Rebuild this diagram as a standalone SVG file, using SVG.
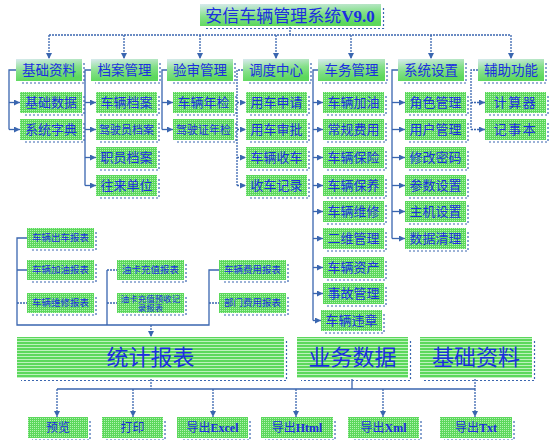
<svg xmlns="http://www.w3.org/2000/svg" width="553" height="440" viewBox="0 0 553 440">
<defs>
<pattern id="dots" width="2" height="2" patternUnits="userSpaceOnUse"><rect width="2" height="2" fill="#5cd85c"/><rect width="1" height="1" fill="#b2f2b2"/></pattern>
<pattern id="stripes" width="3" height="3" patternUnits="userSpaceOnUse"><rect width="3" height="3" fill="#5cd85c"/><rect y="2" width="3" height="1" fill="#bcf2bc"/></pattern>
<linearGradient id="hdr" x1="0" y1="0" x2="0.25" y2="1"><stop offset="0" stop-color="#d8eaee"/><stop offset="0.55" stop-color="#84e088"/><stop offset="1" stop-color="#5cd85c"/></linearGradient>
<marker id="ar" markerWidth="7" markerHeight="7" refX="6" refY="3" orient="auto" markerUnits="userSpaceOnUse"><path d="M0,0 L6,3 L0,6 z" fill="#3a66b0"/></marker>
</defs>
<style>
.box{fill:url(#dots)}
.hd{fill:url(#hdr)}
.big{fill:url(#stripes)}
.sh{fill:none;stroke:#3a66b0;stroke-width:1.2;stroke-dasharray:2 2}
.ln{fill:none;stroke:#3a66b0;stroke-width:1.3}
.dl{fill:none;stroke:#3a66b0;stroke-width:1.3;stroke-dasharray:2 1}
.ar{marker-end:url(#ar)}
text{font-family:"Liberation Serif","Noto Sans CJK SC",serif;fill:#1c2ee0;text-anchor:middle;dominant-baseline:central}
.t13{font-size:13px}
.t14{font-size:13.5px}
.t11{font-size:11px}
.t9{font-size:9.5px}
.t8{font-size:8.5px}
.t12{font-size:12px}
.t22{font-size:22px}
.b{font-weight:bold}
</style>

<g id="connectors">
<path class="dl" d="M290,27 V35 M49,35 H511"/>
<path class="dl ar" d="M49,35 V59"/><path class="dl ar" d="M124,35 V59"/><path class="dl ar" d="M200,35 V59"/><path class="dl ar" d="M276,35 V59"/><path class="dl ar" d="M351,35 V59"/><path class="dl ar" d="M431,35 V59"/><path class="dl ar" d="M511,35 V59"/>
<path class="ln" d="M16,70 H9 V129.5"/>
<path class="ln ar" d="M9,102.5 H20"/><path class="ln ar" d="M9,129.5 H20"/>
<path class="ln" d="M91,70 H85 V185.5"/>
<path class="ln ar" d="M85,102.5 H96"/><path class="ln ar" d="M85,129.5 H96"/><path class="ln ar" d="M85,157.5 H96"/><path class="ln ar" d="M85,185.5 H96"/>
<path class="ln" d="M167,70 H162 V129.5"/>
<path class="ln ar" d="M162,102.5 H173"/><path class="ln ar" d="M162,129.5 H173"/>
<path class="dl" d="M243,70 H237 V185.5"/>
<path class="dl ar" d="M237,102.5 H246"/><path class="dl ar" d="M237,129.5 H246"/><path class="dl ar" d="M237,157.5 H246"/><path class="dl ar" d="M237,185.5 H246"/>
<path class="ln" d="M318,70 H313 V320.5"/>
<path class="ln ar" d="M313,102.5 H323"/><path class="ln ar" d="M313,129.5 H323"/><path class="ln ar" d="M313,157.5 H323"/><path class="ln ar" d="M313,185.5 H323"/><path class="ln ar" d="M313,211.5 H323"/><path class="ln ar" d="M313,238.5 H323"/><path class="ln ar" d="M313,267.5 H323"/><path class="ln ar" d="M313,293.5 H323"/><path class="ln ar" d="M313,320.5 H321"/>
<path class="ln" d="M398,70 H392 V238.5"/>
<path class="ln ar" d="M392,102.5 H405"/><path class="ln ar" d="M392,129.5 H405"/><path class="ln ar" d="M392,157.5 H405"/><path class="ln ar" d="M392,185.5 H405"/><path class="ln ar" d="M392,211.5 H405"/><path class="ln ar" d="M392,238.5 H405"/>
<path class="dl" d="M478,70 H471 V129.5"/>
<path class="dl ar" d="M471,102.5 H485"/><path class="dl ar" d="M471,129.5 H485"/>
<path class="ln" d="M27,238 H17 V325 H209 V270 H219"/>
<path class="ln" d="M17,270 H27 M107,325 V270"/>
<path class="dl" d="M17,303 H27 M107,270 H117 M107,303 H117 M209,303 H219"/>
<path class="dl ar" d="M151,325 V337"/>
<path class="dl" d="M151,379 V389 M475,379 V389"/>
<path class="ln" d="M57,389 H475 M352,379 V389"/>
<path class="dl ar" d="M57,389 V417"/><path class="dl ar" d="M133,389 V417"/><path class="dl ar" d="M213,389 V417"/><path class="dl ar" d="M296,389 V417"/><path class="dl ar" d="M383,389 V417"/><path class="dl ar" d="M475,389 V417"/>
</g>

<g id="title"><rect class="hd" x="200" y="4" width="181" height="22"/><path class="sh" d="M383.5,8 V28.5 H204"/><text x="290" y="15.5" style="font-size:17px"><tspan>安信车辆管理系统</tspan><tspan class="b">V9.0</tspan></text></g>

<g id="h1"><rect class="hd" x="16" y="59" width="66" height="22"/><path class="sh" d="M84,63 V83 H20"/><text class="t14" x="49" y="70">基础资料</text></g>
<g id="h2"><rect class="hd" x="91" y="59" width="67" height="22"/><path class="sh" d="M160,63 V83 H95"/><text class="t14" x="124.5" y="70">档案管理</text></g>
<g id="h3"><rect class="hd" x="167" y="59" width="66" height="22"/><path class="sh" d="M235,63 V83 H171"/><text class="t14" x="200" y="70">验审管理</text></g>
<g id="h4"><rect class="hd" x="243" y="59" width="66" height="22"/><path class="sh" d="M311,63 V83 H247"/><text class="t14" x="276" y="70">调度中心</text></g>
<g id="h5"><rect class="hd" x="318" y="59" width="67" height="22"/><path class="sh" d="M387,63 V83 H322"/><text class="t14" x="351.5" y="70">车务管理</text></g>
<g id="h6"><rect class="hd" x="398" y="59" width="66" height="22"/><path class="sh" d="M466,63 V83 H402"/><text class="t14" x="431" y="70">系统设置</text></g>
<g id="h7"><rect class="hd" x="478" y="59" width="66" height="22"/><path class="sh" d="M546,63 V83 H482"/><text class="t14" x="511" y="70">辅助功能</text></g>

<g id="n1a"><rect class="box" x="20" y="92" width="62" height="21"/><path class="sh" d="M84,96 V115 H24"/><text class="t13" x="51" y="102.5">基础数据</text></g>
<g id="n1b"><rect class="box" x="20" y="119" width="62" height="21"/><path class="sh" d="M84,123 V142 H24"/><text class="t13" x="51" y="129.5">系统字典</text></g>

<g id="n2a"><rect class="box" x="96" y="92" width="61" height="21"/><path class="sh" d="M159,96 V115 H100"/><text class="t13" x="126.5" y="102.5">车辆档案</text></g>
<g id="n2b"><rect class="box" x="96" y="119" width="61" height="21"/><path class="sh" d="M159,123 V142 H100"/><text class="t11" x="126.5" y="129.5">驾驶员档案</text></g>
<g id="n2c"><rect class="box" x="96" y="147" width="61" height="21"/><path class="sh" d="M159,151 V170 H100"/><text class="t13" x="126.5" y="157.5">职员档案</text></g>
<g id="n2d"><rect class="box" x="96" y="175" width="61" height="21"/><path class="sh" d="M159,179 V198 H100"/><text class="t13" x="126.5" y="185.5">往来单位</text></g>

<g id="n3a"><rect class="box" x="173" y="92" width="61" height="21"/><path class="sh" d="M236,96 V115 H177"/><text class="t13" x="203.5" y="102.5">车辆年检</text></g>
<g id="n3b"><rect class="box" x="173" y="119" width="61" height="21"/><path class="sh" d="M236,123 V142 H177"/><text class="t11" x="203.5" y="129.5">驾驶证年检</text></g>

<g id="n4a"><rect class="box" x="246" y="92" width="61" height="21"/><path class="sh" d="M309,96 V115 H250"/><text class="t13" x="276.5" y="102.5">用车申请</text></g>
<g id="n4b"><rect class="box" x="246" y="119" width="61" height="21"/><path class="sh" d="M309,123 V142 H250"/><text class="t13" x="276.5" y="129.5">用车审批</text></g>
<g id="n4c"><rect class="box" x="246" y="147" width="61" height="21"/><path class="sh" d="M309,151 V170 H250"/><text class="t13" x="276.5" y="157.5">车辆收车</text></g>
<g id="n4d"><rect class="box" x="246" y="175" width="61" height="21"/><path class="sh" d="M309,179 V198 H250"/><text class="t13" x="276.5" y="185.5">收车记录</text></g>

<g id="n5a"><rect class="box" x="323" y="92" width="61" height="21"/><path class="sh" d="M386,96 V115 H327"/><text class="t13" x="353.5" y="102.5">车辆加油</text></g>
<g id="n5b"><rect class="box" x="323" y="119" width="61" height="21"/><path class="sh" d="M386,123 V142 H327"/><text class="t13" x="353.5" y="129.5">常规费用</text></g>
<g id="n5c"><rect class="box" x="323" y="147" width="61" height="21"/><path class="sh" d="M386,151 V170 H327"/><text class="t13" x="353.5" y="157.5">车辆保险</text></g>
<g id="n5d"><rect class="box" x="323" y="175" width="61" height="21"/><path class="sh" d="M386,179 V198 H327"/><text class="t13" x="353.5" y="185.5">车辆保养</text></g>
<g id="n5e"><rect class="box" x="323" y="201" width="61" height="21"/><path class="sh" d="M386,205 V224 H327"/><text class="t13" x="353.5" y="211.5">车辆维修</text></g>
<g id="n5f"><rect class="box" x="323" y="228" width="61" height="21"/><path class="sh" d="M386,232 V251 H327"/><text class="t13" x="353.5" y="238.5">二维管理</text></g>
<g id="n5g"><rect class="box" x="323" y="257" width="61" height="21"/><path class="sh" d="M386,261 V280 H327"/><text class="t13" x="353.5" y="267.5">车辆资产</text></g>
<g id="n5h"><rect class="box" x="323" y="283" width="61" height="21"/><path class="sh" d="M386,287 V306 H327"/><text class="t13" x="353.5" y="293.5">事故管理</text></g>
<g id="n5i"><rect class="box" x="321" y="310" width="61" height="21"/><path class="sh" d="M384,314 V333 H325"/><text class="t13" x="351.5" y="320.5">车辆违章</text></g>

<g id="n6a"><rect class="box" x="405" y="92" width="61" height="21"/><path class="sh" d="M468,96 V115 H409"/><text class="t13" x="435.5" y="102.5">角色管理</text></g>
<g id="n6b"><rect class="box" x="405" y="119" width="61" height="21"/><path class="sh" d="M468,123 V142 H409"/><text class="t13" x="435.5" y="129.5">用户管理</text></g>
<g id="n6c"><rect class="box" x="405" y="147" width="61" height="21"/><path class="sh" d="M468,151 V170 H409"/><text class="t13" x="435.5" y="157.5">修改密码</text></g>
<g id="n6d"><rect class="box" x="405" y="175" width="61" height="21"/><path class="sh" d="M468,179 V198 H409"/><text class="t13" x="435.5" y="185.5">参数设置</text></g>
<g id="n6e"><rect class="box" x="405" y="201" width="61" height="21"/><path class="sh" d="M468,205 V224 H409"/><text class="t13" x="435.5" y="211.5">主机设置</text></g>
<g id="n6f"><rect class="box" x="405" y="228" width="61" height="21"/><path class="sh" d="M468,232 V251 H409"/><text class="t13" x="435.5" y="238.5">数据清理</text></g>

<g id="n7a"><rect class="box" x="485" y="92" width="61" height="21"/><path class="sh" d="M548,96 V115 H489"/><text class="t13" x="515.5" y="102.5" letter-spacing="1.5">计算器</text></g>
<g id="n7b"><rect class="box" x="485" y="119" width="61" height="21"/><path class="sh" d="M548,123 V142 H489"/><text class="t13" x="515.5" y="129.5" letter-spacing="1.5">记事本</text></g>

<g id="r1"><rect class="box" x="27" y="228" width="67" height="20"/><path class="sh" d="M96,232 V250 H31"/><text class="t9" x="60.5" y="238">车辆出车报表</text></g>
<g id="r2"><rect class="box" x="27" y="260" width="67" height="20"/><path class="sh" d="M96,264 V282 H31"/><text class="t9" x="60.5" y="270">车辆加油报表</text></g>
<g id="r3"><rect class="box" x="27" y="293" width="67" height="20"/><path class="sh" d="M96,297 V315 H31"/><text class="t9" x="60.5" y="303">车辆维修报表</text></g>
<g id="r4"><rect class="box" x="117" y="260" width="67" height="20"/><path class="sh" d="M186,264 V282 H121"/><text class="t9" x="150.5" y="270">油卡充值报表</text></g>
<g id="r5"><rect class="box" x="117" y="293" width="67" height="20"/><path class="sh" d="M186,297 V315 H121"/><text class="t8" x="150.5" y="298.5">油卡充值预收记</text><text class="t8" x="150.5" y="308">录报表</text></g>
<g id="r6"><rect class="box" x="219" y="260" width="67" height="20"/><path class="sh" d="M288,264 V282 H223"/><text class="t9" x="252.5" y="270">车辆费用报表</text></g>
<g id="r7"><rect class="box" x="219" y="293" width="67" height="20"/><path class="sh" d="M288,297 V315 H223"/><text class="t9" x="252.5" y="303">部门费用报表</text></g>

<g id="b1"><rect class="big" x="17" y="337" width="267" height="41"/><path class="sh" d="M286.5,341 V380.5 H21"/><text class="t22" x="150.5" y="357.5">统计报表</text></g>
<g id="b2"><rect class="big" x="297" y="337" width="111" height="41"/><path class="sh" d="M410.5,341 V380.5 H301"/><text class="t22" x="352.5" y="357.5">业务数据</text></g>
<g id="b3"><rect class="big" x="420" y="337" width="112" height="41"/><path class="sh" d="M534.5,341 V380.5 H424"/><text class="t22" x="476" y="357.5">基础资料</text></g>

<g id="o1"><rect class="box" x="28" y="417" width="60" height="21"/><path class="sh" d="M90,421 V440 H32"/><text class="t12" x="58" y="427.5">预览</text></g>
<g id="o2"><rect class="box" x="102" y="417" width="61" height="21"/><path class="sh" d="M165,421 V440 H106"/><text class="t12" x="132.5" y="427.5">打印</text></g>
<g id="o3"><rect class="box" x="177" y="417" width="71" height="21"/><path class="sh" d="M250,421 V440 H181"/><text class="t12" x="212.5" y="427.5">导出<tspan class="b">Excel</tspan></text></g>
<g id="o4"><rect class="box" x="261" y="417" width="72" height="21"/><path class="sh" d="M335,421 V440 H265"/><text class="t12" x="297" y="427.5">导出<tspan class="b">Html</tspan></text></g>
<g id="o5"><rect class="box" x="348" y="417" width="71" height="21"/><path class="sh" d="M421,421 V440 H352"/><text class="t12" x="383.5" y="427.5">导出<tspan class="b">Xml</tspan></text></g>
<g id="o6"><rect class="box" x="440" y="417" width="72" height="21"/><path class="sh" d="M514,421 V440 H444"/><text class="t12" x="476" y="427.5">导出<tspan class="b">Txt</tspan></text></g>
</svg>
